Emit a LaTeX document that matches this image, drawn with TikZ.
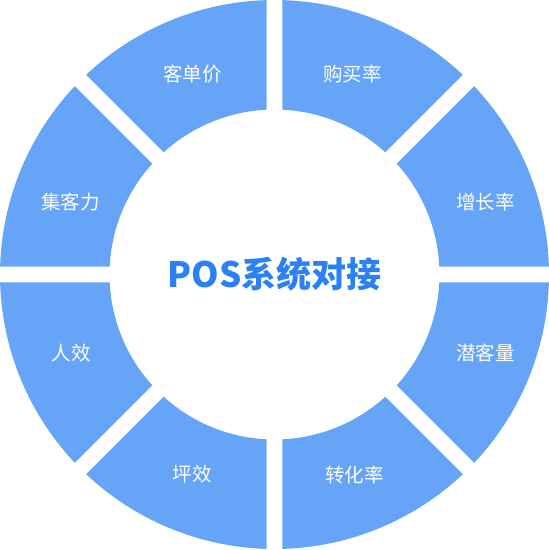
\documentclass[tikz,border=0pt]{standalone}
\usepackage{fontspec}
\setmainfont{Noto Sans CJK SC}
\definecolor{segblue}{HTML}{66A4F8}
\definecolor{titleblue}{HTML}{2B80F3}

\begin{document}
\begin{tikzpicture}[x=1pt,y=1pt,seg/.style={fill=segblue},lbl/.style={text=white,font=\fontsize{19.5}{19.5}\selectfont},title/.style={text=titleblue,font=\bfseries\fontsize{35}{35}\selectfont}]
\useasboundingbox (-274.5,-275.5) rectangle (274.5,274.5);
\foreach \a/\t/\p [count=\i] in {0/增长率/{211,72.5},45/购买率/{78,200.5},90/客单价/{-82,200.5},135/集客力/{-204,72.5},180/人效/{-203,-79},225/坪效/{-82,-200},270/转化率/{80,-201},315/潜客量/{211,-78.5}}{
  \fill[seg] ({\a+asin(8/274.5)}:274.5) arc[start angle={\a+asin(8/274.5)},end angle={\a+45-asin(8/274.5)},radius=274.5]
    -- ({\a+45-asin(8/165)}:165) arc[start angle={\a+45-asin(8/165)},end angle={\a+asin(8/165)},radius=165] -- cycle;
  \node[lbl](s\i) at (\p){\t};
}
\node[title](pos) at (0,0){POS系统对接};
\end{tikzpicture}
\end{document}
